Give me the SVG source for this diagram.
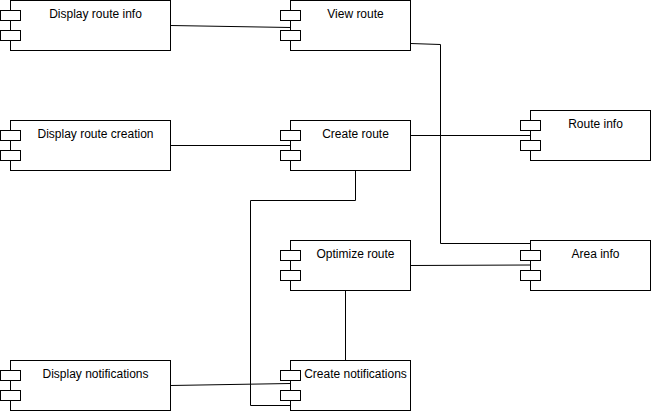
<svg xmlns="http://www.w3.org/2000/svg" width="651" height="411" viewBox="0 0 651 411">
<style>
.box{fill:#fff;stroke:#000;stroke-width:1}
.port{fill:#fff;stroke:#000;stroke-width:1}
.lbl{font-family:"Liberation Sans",Arial,sans-serif;font-size:12px;fill:#000;text-anchor:middle}
.conn{fill:none;stroke:#000;stroke-width:1}
</style>
<defs>
<g id="ports">
<rect class="port" x="0" y="10" width="20" height="10"/>
<rect class="port" x="0" y="30" width="20" height="10"/>
</g>
</defs>
<rect width="651" height="411" fill="#fff"/>
<g id="connectors">
<path class="conn" d="M170.5,25.5 L290.5,27.5"/>
<path class="conn" d="M410.5,43.5 L440.5,44.5 L440.5,243.5 L530.5,243.5"/>
<path class="conn" d="M410.5,135.5 L530.5,135.5"/>
<path class="conn" d="M170.5,145.5 L290.5,145.5"/>
<path class="conn" d="M355.5,170.5 L355.5,200.5 L250.5,200.5 L250.5,405.5 L290.5,405.5"/>
<path class="conn" d="M410.5,265.5 L530.5,265"/>
<path class="conn" d="M345.5,290.5 L345.5,360.5"/>
<path class="conn" d="M170.5,385.5 L290.5,383.5"/>
</g>
<g id="display-route-info" transform="translate(0.5,0.5)">
<rect class="box" x="10" y="0" width="160" height="50"/>
<use href="#ports"/>
<text class="lbl" x="95" y="17.5">Display route info</text>
</g>
<g id="view-route" transform="translate(280.5,0.5)">
<rect class="box" x="10" y="0" width="120" height="50"/>
<use href="#ports"/>
<text class="lbl" x="75" y="17.5">View route</text>
</g>
<g id="display-route-creation" transform="translate(0.5,120.5)">
<rect class="box" x="10" y="0" width="160" height="50"/>
<use href="#ports"/>
<text class="lbl" x="95" y="17.5">Display route creation</text>
</g>
<g id="create-route" transform="translate(280.5,120.5)">
<rect class="box" x="10" y="0" width="120" height="50"/>
<use href="#ports"/>
<text class="lbl" x="75" y="17.5">Create route</text>
</g>
<g id="route-info" transform="translate(520.5,110.5)">
<rect class="box" x="10" y="0" width="120" height="50"/>
<use href="#ports"/>
<text class="lbl" x="75" y="17.5">Route info</text>
</g>
<g id="optimize-route" transform="translate(280.5,240.5)">
<rect class="box" x="10" y="0" width="120" height="50"/>
<use href="#ports"/>
<text class="lbl" x="75" y="17.5">Optimize route</text>
</g>
<g id="area-info" transform="translate(520.5,240.5)">
<rect class="box" x="10" y="0" width="120" height="50"/>
<use href="#ports"/>
<text class="lbl" x="75" y="17.5">Area info</text>
</g>
<g id="display-notifications" transform="translate(0.5,360.5)">
<rect class="box" x="10" y="0" width="160" height="50"/>
<use href="#ports"/>
<text class="lbl" x="95" y="17.5">Display notifications</text>
</g>
<g id="create-notifications" transform="translate(280.5,360.5)">
<rect class="box" x="10" y="0" width="120" height="50"/>
<use href="#ports"/>
<text class="lbl" x="75" y="17.5">Create notifications</text>
</g>
</svg>
